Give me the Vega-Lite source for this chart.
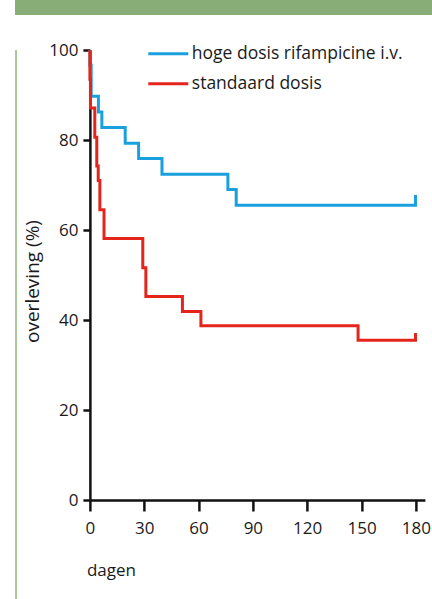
{
  "$schema": "https://vega.github.io/schema/vega-lite/v6.json",
  "padding": {"left": 15, "top": 0, "right": 0, "bottom": 0},
  "background": "white",
  "spacing": 0,
  "config": {
    "font": "Open Sans",
    "view": {"stroke": null},
    "concat": {"spacing": 0},
    "axis": {
      "domainColor": "#111111",
      "domainWidth": 2.5,
      "tickColor": "#111111",
      "tickWidth": 2.5,
      "labelColor": "#1a1a1a",
      "labelFontSize": 17,
      "titleFontSize": 17,
      "titleFontWeight": "normal",
      "titleColor": "#1a1a1a",
      "grid": false,
      "zindex": 1
    }
  },
  "datasets": {
    "km": [
      {"group": "hoge dosis rifampicine i.v.", "i": 0, "day": 0, "surv": 100},
      {"group": "hoge dosis rifampicine i.v.", "i": 1, "day": 0, "surv": 96.6},
      {"group": "hoge dosis rifampicine i.v.", "i": 2, "day": 0.7, "surv": 89.7},
      {"group": "hoge dosis rifampicine i.v.", "i": 3, "day": 4.7, "surv": 86.2},
      {"group": "hoge dosis rifampicine i.v.", "i": 4, "day": 6.6, "surv": 82.8},
      {"group": "hoge dosis rifampicine i.v.", "i": 5, "day": 19.5, "surv": 79.3},
      {"group": "hoge dosis rifampicine i.v.", "i": 6, "day": 26.9, "surv": 75.9},
      {"group": "hoge dosis rifampicine i.v.", "i": 7, "day": 39.8, "surv": 72.4},
      {"group": "hoge dosis rifampicine i.v.", "i": 8, "day": 76.2, "surv": 69.0},
      {"group": "hoge dosis rifampicine i.v.", "i": 9, "day": 80.8, "surv": 65.5},
      {"group": "hoge dosis rifampicine i.v.", "i": 10, "day": 179.8, "surv": 65.5},
      {"group": "hoge dosis rifampicine i.v.", "i": 11, "day": 179.8, "surv": 67.8},
      {"group": "standaard dosis", "i": 0, "day": 0, "surv": 100},
      {"group": "standaard dosis", "i": 1, "day": 0, "surv": 93.5},
      {"group": "standaard dosis", "i": 2, "day": 0.3, "surv": 87.1},
      {"group": "standaard dosis", "i": 3, "day": 2.7, "surv": 80.6},
      {"group": "standaard dosis", "i": 4, "day": 3.8, "surv": 74.2},
      {"group": "standaard dosis", "i": 5, "day": 4.6, "surv": 71.0},
      {"group": "standaard dosis", "i": 6, "day": 5.5, "surv": 64.5},
      {"group": "standaard dosis", "i": 7, "day": 7.8, "surv": 58.1},
      {"group": "standaard dosis", "i": 8, "day": 29.2, "surv": 51.6},
      {"group": "standaard dosis", "i": 9, "day": 30.9, "surv": 45.2},
      {"group": "standaard dosis", "i": 10, "day": 51.1, "surv": 41.9},
      {"group": "standaard dosis", "i": 11, "day": 61.3, "surv": 38.7},
      {"group": "standaard dosis", "i": 12, "day": 148.1, "surv": 35.5},
      {"group": "standaard dosis", "i": 13, "day": 179.8, "surv": 35.5},
      {"group": "standaard dosis", "i": 14, "day": 179.8, "surv": 37.1}
    ]
  },
  "vconcat": [
    {
      "width": 417,
      "height": 15,
      "view": {"fill": "#88ad77", "stroke": null},
      "data": {"values": []},
      "mark": "rect",
      "encoding": {}
    },
    {
      "spacing": 5.9,
      "hconcat": [
        {
          "width": 2,
          "height": 584,
          "view": {"fill": "#a9c99b", "stroke": null},
          "data": {"values": []},
          "mark": "rect",
          "encoding": {}
        },
        {
          "width": 335,
          "height": 450,
          "data": {"name": "km"},
          "title": {"text": " ", "fontSize": 2, "offset": 23.8},
          "mark": {"type": "line", "interpolate": "step-after", "strokeWidth": 3, "clip": false},
          "encoding": {
            "x": {
              "field": "day",
              "type": "quantitative",
              "scale": {"domain": [0, 185], "nice": false},
              "axis": {
                "values": [0, 30, 60, 90, 120, 150, 180],
                "title": "dagen",
                "titleAnchor": "start",
                "titleX": -3.5,
                "tickSize": 11,
                "labelPadding": 9,
                "titlePadding": 26,
                "labelFlush": false
              }
            },
            "y": {
              "field": "surv",
              "type": "quantitative",
              "scale": {"domain": [0, 100], "nice": false},
              "axis": {
                "values": [0, 20, 40, 60, 80, 100],
                "title": "overleving (%)",
                "titleFontSize": 19,
                "titleY": 231,
                "tickSize": 7,
                "labelPadding": 5,
                "titlePadding": 6
              }
            },
            "color": {
              "field": "group",
              "type": "nominal",
              "scale": {
                "domain": ["hoge dosis rifampicine i.v.", "standaard dosis"],
                "range": ["#1aa1dd", "#e3251c"]
              },
              "legend": {
                "orient": "none",
                "legendX": 131.8,
                "legendY": 32.3,
                "title": null,
                "symbolType": "stroke",
                "symbolSize": 1600,
                "symbolStrokeWidth": 3,
                "labelFontSize": 17.5,
                "labelColor": "#1a1a1a",
                "labelOffset": 2,
                "rowPadding": -12.1,
                "padding": 0,
                "labelLimit": 400
              }
            },
            "order": {"field": "i", "type": "quantitative"}
          }
        }
      ]
    }
  ]
}
